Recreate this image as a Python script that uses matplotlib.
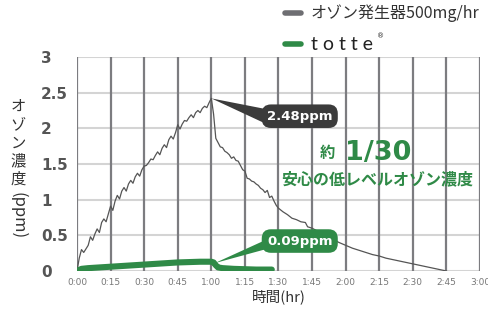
import matplotlib
matplotlib.use("Agg")
import matplotlib.pyplot as plt
from matplotlib.lines import Line2D
from matplotlib.patches import Polygon

JP = ["Noto Sans CJK JP", "DejaVu Sans"]
GRAY = "#555555"
GREEN = "#2f8a47"
DARK = "#3b3b3b"

# ozone generator 500mg/hr (minutes, ppm)
gen_min = [0, 1, 2, 3, 4, 5, 6, 7, 8, 9, 10, 11, 12, 13, 14, 15, 16, 17, 18, 19,
           20, 21, 22, 23, 24, 25, 26, 27, 28, 29, 30, 31, 32, 33, 34, 35, 36, 37,
           38, 39, 40, 41, 42, 43, 44, 45, 46, 47, 48, 49, 50, 51, 52, 53, 54, 55,
           56, 57, 58, 59, 60, 61, 62, 63, 64, 65, 66, 67, 68, 69, 70, 71, 72, 73,
           74, 75, 76, 77, 78, 79, 80, 81, 82, 83, 84, 85, 86, 87, 88, 89, 90, 92,
           94, 96, 98, 100, 102, 103, 105, 108, 111, 114, 117, 120, 123, 126, 129,
           132, 135, 138, 141, 144, 147, 150, 153, 156, 159, 162, 165]
gen_ppm = [0.0, 0.18, 0.30, 0.26, 0.31, 0.36, 0.48, 0.43, 0.52, 0.59, 0.54, 0.68,
           0.73, 0.69, 0.80, 0.91, 0.85, 0.98, 1.06, 1.01, 1.12, 1.17, 1.12, 1.22,
           1.27, 1.23, 1.32, 1.37, 1.33, 1.42, 1.47, 1.48, 1.52, 1.57, 1.56, 1.62,
           1.67, 1.63, 1.72, 1.77, 1.73, 1.84, 1.89, 1.85, 1.94, 2.05, 1.99, 2.06,
           2.11, 2.10, 2.15, 2.19, 2.15, 2.22, 2.25, 2.22, 2.28, 2.31, 2.29, 2.36,
           2.42, 2.20, 1.86, 1.80, 1.74, 1.73, 1.68, 1.66, 1.63, 1.58, 1.60, 1.55,
           1.54, 1.48, 1.42, 1.40, 1.30, 1.29, 1.26, 1.25, 1.22, 1.20, 1.16, 1.14,
           1.10, 1.13, 1.03, 1.05, 0.98, 0.92, 0.88, 0.83, 0.79, 0.74, 0.72, 0.69,
           0.68, 0.62, 0.60, 0.55, 0.50, 0.45, 0.40, 0.36, 0.32, 0.29, 0.26, 0.23,
           0.21, 0.18, 0.16, 0.14, 0.12, 0.10, 0.08, 0.06, 0.04, 0.02, 0.0]

# totte (minutes, ppm)
totte_min = [0, 2, 5, 10, 15, 20, 25, 30, 35, 40, 45, 50, 55, 60, 61, 62, 63, 65,
             70, 75, 80, 87]
totte_ppm = [0.0, 0.03, 0.04, 0.05, 0.06, 0.07, 0.08, 0.09, 0.10, 0.11, 0.12,
             0.125, 0.13, 0.13, 0.12, 0.08, 0.05, 0.04, 0.03, 0.025, 0.02, 0.02]

x_ticks = list(range(0, 181, 15))
x_labels = ["0:00", "0:15", "0:30", "0:45", "1:00", "1:15", "1:30", "1:45",
            "2:00", "2:15", "2:30", "2:45", "3:00"]
y_ticks = [0, 0.5, 1, 1.5, 2, 2.5, 3]
y_labels = ["0", "0.5", "1", "1.5", "2", "2.5", "3"]

fig = plt.figure(figsize=(4.89, 3.12), dpi=100)
ax = fig.add_axes([77 / 489, 1 - 271 / 312, 403 / 489, 214 / 312])
ax.set_xlim(0, 180)
ax.set_ylim(0, 3)

for y in y_ticks:
    ax.axhline(y, color="#d4d4d4", lw=1.5, zorder=0.5)
for x in x_ticks:
    ax.axvline(x, color="#7c7c80", lw=1.6, zorder=0.6)
for s in ax.spines.values():
    s.set_visible(False)

ax.plot(gen_min, gen_ppm, color=GRAY, lw=0.9, zorder=3)
ax.plot(totte_min, totte_ppm, color=GREEN, lw=4.4, solid_capstyle="round",
        solid_joinstyle="round", zorder=4)

ax.set_xticks(x_ticks)
ax.set_xticklabels(x_labels, fontsize=6.5, color="#777777")
ax.set_yticks(y_ticks)
ax.set_yticklabels(y_labels, fontsize=11, fontweight="bold", color="#555555")
ax.tick_params(axis="x", length=0, pad=5)
ax.tick_params(axis="y", length=0, pad=26)
for lbl in ax.get_yticklabels():
    lbl.set_horizontalalignment("left")

ax.set_xlabel("時間(hr)", family=JP, fontsize=10.5, color="#333333", labelpad=2)

# vertical y label: upright kana/kanji, rotated (ppm)
fig.text(18 / 489, 1 - 143 / 312, "オ\nゾ\nン\n濃\n度", family=JP, fontsize=11,
         color="#333333", ha="center", va="center", linespacing=1.1)
fig.text(18 / 489, 1 - 216 / 312, "(ppm)", family=JP, fontsize=12,
         color="#333333", ha="center", va="center", rotation=-90)

# callouts
peak_i = gen_ppm.index(max(gen_ppm))
px, py = gen_min[peak_i], gen_ppm[peak_i]
ax.add_patch(Polygon([[px, py], [86, 2.26], [86, 2.04]], closed=True,
                     color=DARK, lw=0, zorder=5))
ax.text(99.5, 2.17, "2.48ppm", ha="center", va="center", fontsize=9.5,
        fontweight="bold", color="white", zorder=6,
        bbox=dict(boxstyle="round,pad=0.4,rounding_size=0.7", fc=DARK, ec="none"))
ax.add_patch(Polygon([[61.5, totte_ppm[13] - 0.02], [86, 0.46], [86, 0.32]],
                     closed=True, color=GREEN, lw=0, zorder=5))
ax.text(99.5, 0.42, "0.09ppm", ha="center", va="center", fontsize=9.5,
        fontweight="bold", color="white", zorder=6,
        bbox=dict(boxstyle="round,pad=0.4,rounding_size=0.7", fc=GREEN, ec="none"))

ax.text(112, 1.65, "約", family=JP, fontsize=11, fontweight="bold",
        color=GREEN, ha="center", va="center", zorder=6)
ax.text(134.5, 1.66, "1/30", fontsize=19.5, fontweight="bold", color=GREEN,
        ha="center", va="center", zorder=6)
ax.text(134, 1.28, "安心の低レベルオゾン濃度", family=JP, fontsize=11.5,
        fontweight="bold", color=GREEN, ha="center", va="center", zorder=6)

# legend
fig.add_artist(Line2D([285 / 489, 301 / 489], [1 - 13 / 312] * 2, color="#6e6e72",
                      lw=4, solid_capstyle="round"))
fig.text(311 / 489, 1 - 13 / 312, "オゾン発生器500mg/hr", family=JP, fontsize=11.5,
         color="#333333", ha="left", va="center")
fig.add_artist(Line2D([285 / 489, 301 / 489], [1 - 44 / 312] * 2, color=GREEN,
                      lw=4, solid_capstyle="round"))
fig.text(311 / 489, 1 - 45 / 312, "t o t t e", family="Lato", fontsize=14,
         color="#222222", ha="left", va="center")
fig.text(377 / 489, 1 - 36 / 312, "®", fontsize=5, color="#222222",
         ha="left", va="center")

fig.savefig("out.png", dpi=100, facecolor="white")
